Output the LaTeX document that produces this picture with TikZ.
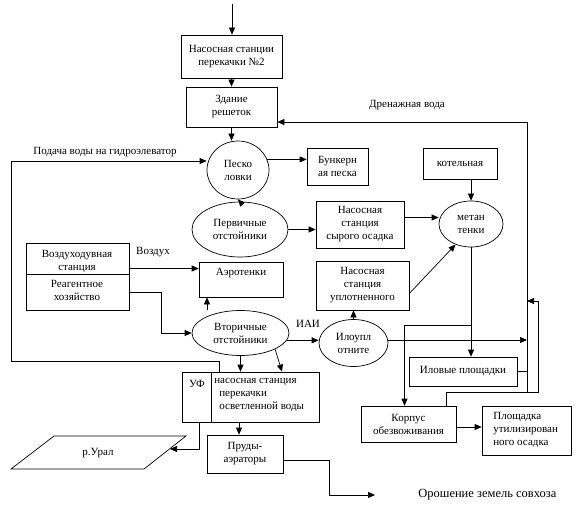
\documentclass[tikz,border=0pt]{standalone}
\usepackage{fontspec}
\setmainfont{Liberation Serif}
\usetikzlibrary{arrows.meta,calc,shapes.geometric}
\begin{document}
\begin{tikzpicture}[x=1pt,y=-1pt,line width=0.7pt,
  every node/.style={font=\fontsize{11}{13}\selectfont},
  arr/.style={-{Triangle[length=7pt,width=6pt]}},
  box/.style={draw,rectangle,inner sep=0pt,align=center},
  ell/.style={draw,ellipse,inner sep=0pt,align=center},
  txt/.style={inner sep=0pt,align=center}]
\useasboundingbox (0,0) rectangle (578,505);
% boxes
\node[box,minimum width=101pt,minimum height=43pt] (b1) at (231.5,56.5) {Насосная станции\\перекачки №2};
\node[box,minimum width=91pt,minimum height=40pt] (b2) at (231.5,107) {Здание\\решеток};
\node[ell,minimum width=62pt,minimum height=58pt] (pesk) at (238,170) {Песко\\ловки};
\node[box,minimum width=61pt,minimum height=37pt] (bunk) at (337.5,166.5) {Бункерн\\ая песка};
\node[box,minimum width=74pt,minimum height=31pt] (kot) at (460,163.5) {котельная};
\node[ell,minimum width=96pt,minimum height=55pt] (perv) at (240,229.5) {Первичные\\отстойники};
\node[box,minimum width=88pt,minimum height=47pt] (syr) at (360,224.5) {Насосная\\станция\\сырого осадка};
\node[ell,minimum width=64pt,minimum height=46pt] (met) at (471,224) {метан\\тенки};
\node[box,minimum width=103pt,minimum height=31pt] (vozd) at (77.5,258.5) {};
\node[box,minimum width=103pt,minimum height=36pt] (reag) at (77.5,292) {};
\node[txt] (vozdt) at (77,261.5) {Воздуходувная\\станция};
\node[txt] (reagt) at (77,290) {Реагентное\\хозяйство};
\node[box,minimum width=84pt,minimum height=35pt] (aero) at (241,279.5) {};
\node[txt] (aerot) at (241,273) {Аэротенки};
\node[box,minimum width=93pt,minimum height=49pt] (upl) at (362.5,285.5) {Насосная\\станция\\уплотненного};
\node[ell,minimum width=97pt,minimum height=45pt] (vtor) at (240.5,333) {Вторичные\\отстойники};
\node[ell,minimum width=69pt,minimum height=47pt] (ilo) at (353.5,343) {Илоупл\\отните};
\node[box,minimum width=108pt,minimum height=29pt] (ilov) at (463,371.5) {Иловые площадки};
\node[box,minimum width=137pt,minimum height=50pt] (uf) at (250.5,397) {};
\draw ([xshift=29.5pt]uf.north west) -- ([xshift=29.5pt]uf.south west);
\node[txt] (uft) at (197,384) {УФ};
\node[txt,align=left,anchor=north west] (ufr) at (214,378) {насосная станция\\\hspace{5pt}перекачки\\\hspace{5pt}осветленной воды};
\node[box,minimum width=95pt,minimum height=36pt] (korp) at (408.5,424) {Корпус\\обезвоживания};
\node[box,minimum width=89pt,minimum height=49pt] (plosh) at (526.5,430.5) {};
\node[txt,align=left,anchor=west] (plt) at (493,430) {Площадка\\утилизирован\\ного осадка};
\node[box,minimum width=76pt,minimum height=38pt] (prud) at (245,454) {Пруды-\\аэраторы};
\draw (11,469) -- (54,436) -- (186,436) -- (144,469) -- cycle;
\node[txt] (ural) at (98,453) {р.Урал};
% labels
\node[txt] (lpod) at (105,152) {Подача воды на гидроэлеватор};
\node[txt] (ldr) at (407,105) {Дренажная вода};
\node[txt] (lvoz) at (153,252) {Воздух};
\node[txt] (liai) at (308,324) {ИАИ};
\node[txt,anchor=west,font=\fontsize{12.5}{14}\selectfont] (lor) at (418,495) {Орошение земель совхоза};
% coordinates
\coordinate (top) at (232,4);
\coordinate (cA) at (527,122);
\coordinate (cB) at (527,392);
\coordinate (cC) at (538,301);
\coordinate (j1) at (471,325);
\coordinate (cL1) at (11,361);
\coordinate (cL2) at (11,161);
\coordinate (uralR) at (170,449);
\coordinate (cO) at (375,495);
% connectors
\draw[arr] (top) -- (top |- b1.north);
\draw[arr] (b1.south) -- (b2.north);
\draw[arr] (b2.south) -- (b2.south |- pesk.north);
\draw[arr] (cB) -- (cA) -- ([yshift=-15pt]b2.east);
\draw[arr] (pesk.20) -- (pesk.20 -| bunk.west);
\draw[arr] (perv.north) -- (pesk.south);
\draw[arr] (perv.east) -- (perv.east -| syr.west);
\draw[arr] ([yshift=7pt]syr.east) -- ([yshift=7pt]syr.east -| met.west);
\draw[arr] (kot.south -| met.north) -- (met.north);
\draw[arr] ([yshift=-8pt]upl.east) -- (met.233);
\draw[arr] (met.south) -- (met.south |- ilov.north);
\draw[arr] (j1) -| ([xshift=-4pt]korp.north);
\draw (ilov.east) -- (ilov.east -| cA);
\draw[arr] ([xshift=37.5pt]korp.north) |- (cC |- cB) -- (cC) -- (cC -| cA);
\draw[arr] ([yshift=-3pt]korp.east) -- ([yshift=-3pt]korp.east -| plosh.west);
\draw[arr] ([yshift=3pt]ilo.east) -- ([yshift=3pt]ilo.east -| cA);
\draw[arr] (vtor.-9) -- (vtor.-9 -| ilo.west);
\draw[arr] (ilo.north) -- (ilo.north |- upl.south);
\draw[arr] ([yshift=-10pt]vozd.east) -- ([yshift=-10pt]vozd.east -| aero.west);
\draw[arr] (reag.east) -- ++(32,0) |- (vtor.west);
\draw[arr] ([xshift=-34pt]aero.south |- vtor.north) -- ([xshift=-34pt]aero.south);
\draw[arr] ([xshift=-31.5pt]uf.north) |- (cL1) -- (cL2) -- (cL2 -| pesk.west);
\draw[arr] (vtor.south) -- (vtor.south |- uf.north);
\draw[arr] (vtor.-25) -- ([xshift=31.5pt]uf.north);
\draw[arr] ([xshift=-11.5pt]uf.south) -- ([xshift=-11.5pt]uf.south |- prud.north);
\draw[arr] ([xshift=-51.5pt]uf.south) |- (uralR);
\draw[arr] ([yshift=-6pt]prud.east) -- ++(46,0) |- (cO);
\end{tikzpicture}
\end{document}
